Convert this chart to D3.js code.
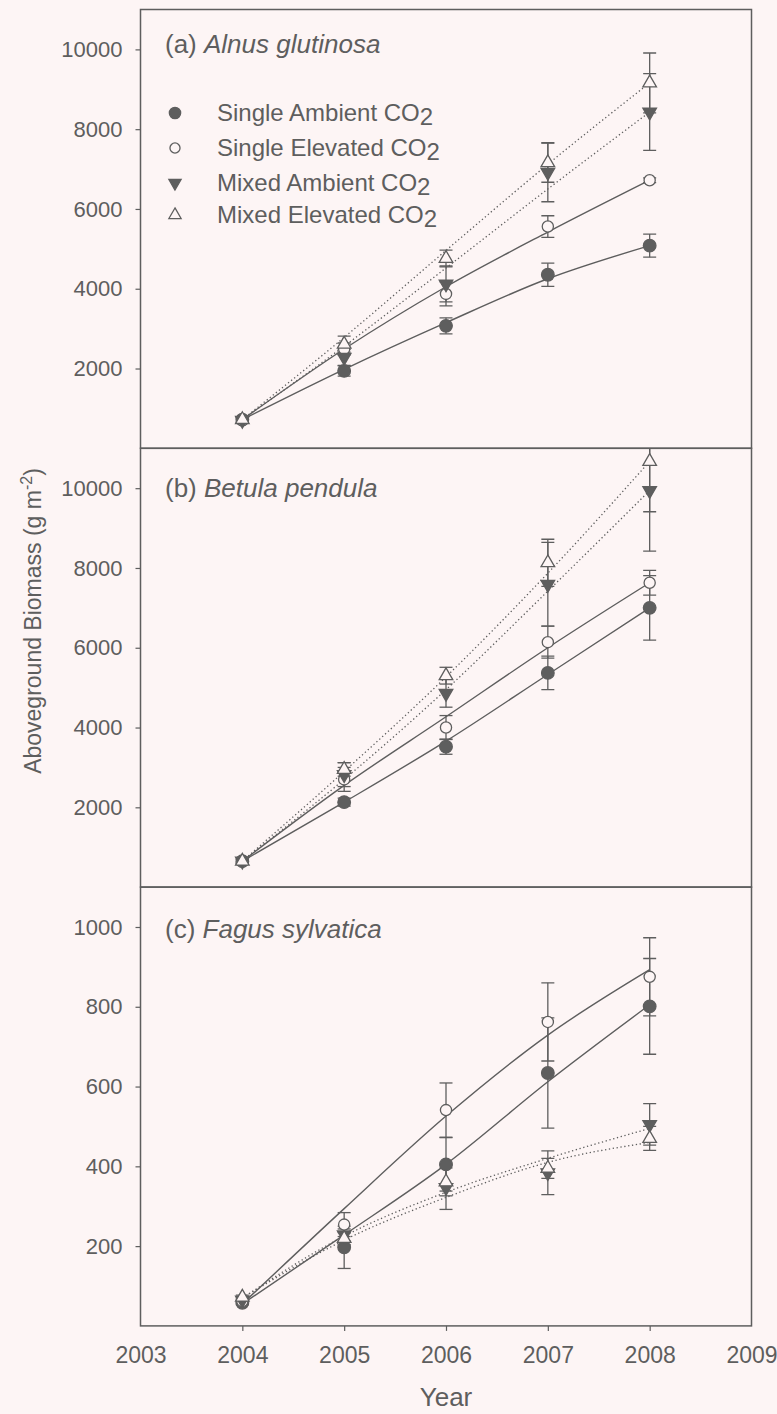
<!DOCTYPE html>
<html>
<head>
<meta charset="utf-8">
<script src="https://cdn.jsdelivr.net/npm/d3@7"></script>
<style>
  body { margin: 0; background: #fdf5f5; }
  svg { display: block; font-family: 'Liberation Sans', Arial, sans-serif; }
</style>
</head>
<body>
<div id="chart"></div>
<script>
const years = [2004, 2005, 2006, 2007, 2008];
const xTicks = [2003, 2004, 2005, 2006, 2007, 2008, 2009];
const seriesNames = ['Single Ambient CO', 'Single Elevated CO', 'Mixed Ambient CO', 'Mixed Elevated CO'];
const titleLetters = ['(a) ', '(b) ', '(c) '];
const species = ['Alnus glutinosa', 'Betula pendula', 'Fagus sylvatica'];
const bigTicks = [2000, 4000, 6000, 8000, 10000];
const smallTicks = [200, 400, 600, 800, 1000];

// row order: single ambient, single elevated, mixed ambient, mixed elevated
const alnusMean = [
    [720, 1940, 3070, 4350, 5080],
    [700, 2490, 3870, 5560, 6720],
    [700, 2280, 4120, 6920, 8430],
    [720, 2610, 4760, 7160, 9160]
];
const alnusErr = [
    [60, 130, 200, 290, 290],
    [60, 150, 300, 270, 60],
    [60, 200, 450, 740, 960],
    [60, 200, 210, 490, 750]
];
const alnusFit = [
    [720, 1980, 3150, 4250, 5080],
    [720, 2490, 4050, 5420, 6720],
    [720, 2560, 4520, 6500, 8430],
    [720, 2780, 4960, 7120, 9160]
];

const betulaMean = [
    [650, 2130, 3520, 5370, 7000],
    [650, 2700, 4000, 6140, 7630],
    [650, 2820, 4860, 7590, 9940],
    [650, 2950, 5300, 8130, 10670]
];
const betulaErr = [
    [50, 100, 190, 420, 810],
    [50, 300, 300, 400, 310],
    [50, 300, 350, 1050, 1520],
    [50, 170, 210, 590, 1260]
];
const betulaFit = [
    [650, 2130, 3660, 5330, 7000],
    [650, 2550, 4270, 6000, 7630],
    [650, 2700, 4950, 7420, 9940],
    [650, 2900, 5270, 7870, 10670]
];

const fagusMean = [
    [58, 197, 405, 634, 801],
    [62, 254, 541, 762, 875],
    [65, 228, 347, 384, 505],
    [72, 219, 361, 395, 470]
];
const fagusErr = [
    [5, 53, 67, 138, 120],
    [5, 30, 68, 98, 98],
    [5, 15, 55, 55, 52],
    [5, 15, 35, 25, 30]
];
const fagusFit = [
    [55, 228, 405, 612, 805],
    [55, 294, 526, 729, 893],
    [70, 225, 335, 420, 495],
    [70, 215, 322, 410, 460]
];

const W = 777, H = 1414;
const plotLeft = 140.5, plotRight = 751.5, plotTop = 9.5, panelH = 438.8;
const ink = '#5e5e5e';
const bg = '#fdf5f5';

const panels = [
    {mean: alnusMean, err: alnusErr, fit: alnusFit, max: 11000, ticks: bigTicks, titleY: 53},
    {mean: betulaMean, err: betulaErr, fit: betulaFit, max: 11000, ticks: bigTicks, titleY: 497},
    {mean: fagusMean, err: fagusErr, fit: fagusFit, max: 1100, ticks: smallTicks, titleY: 938}
];
const markerTypes = ['dot', 'ring', 'down', 'up'];

const svg = d3.select('#chart').append('svg')
    .attr('width', W)
    .attr('height', H);
svg.append('rect').attr('width', W).attr('height', H).attr('fill', bg);

const x = d3.scaleLinear()
    .domain([2003, 2009])
    .range([plotLeft, plotRight]);

function marker(g, type, cx, cy, small) {
    let s = small ? 0.9 : 1;
    if (type === 'dot' || type === 'ring') {
        g.append('circle')
            .attr('cx', cx).attr('cy', cy)
            .attr('r', (type === 'dot' ? 6.3 : 5.6) * s)
            .attr('fill', type === 'dot' ? ink : bg)
            .attr('stroke', ink)
            .attr('stroke-width', 1.3);
    } else {
        g.append('path')
            .attr('d', d3.symbol(d3.symbolTriangle, 80 * s * s)())
            .attr('transform', `translate(${cx},${cy})` + (type === 'down' ? ' rotate(180)' : ''))
            .attr('fill', type === 'down' ? ink : bg)
            .attr('stroke', ink)
            .attr('stroke-width', 1.3);
    }
}

panels.forEach((p, pi) => {
    let y0 = plotTop + pi * panelH;
    let y = d3.scaleLinear()
        .domain([0, p.max])
        .range([y0 + panelH, y0]);

    let clipId = 'clip' + pi;
    svg.append('clipPath').attr('id', clipId)
        .append('rect')
        .attr('x', plotLeft).attr('y', y0)
        .attr('width', plotRight - plotLeft).attr('height', panelH);

    let g = svg.append('g').attr('clip-path', `url(#${clipId})`);

    // fitted lines
    let line = d3.line()
        .x((d, i) => x(years[i]))
        .y(d => y(d))
        .curve(d3.curveMonotoneX);
    p.fit.forEach((f, si) => {
        g.append('path')
            .attr('d', line(f))
            .attr('fill', 'none')
            .attr('stroke', ink)
            .attr('stroke-width', si < 2 ? 1.4 : 1.3)
            .attr('stroke-dasharray', si < 2 ? null : '1.3,2.6');
    });

    // error bars
    p.mean.forEach((m, si) => {
        m.forEach((v, i) => {
            let e = p.err[si][i];
            let cx = x(years[i]);
            let eb = g.append('g')
                .attr('stroke', ink)
                .attr('stroke-width', 1.3);
            eb.append('line')
                .attr('x1', cx).attr('x2', cx)
                .attr('y1', y(v - e)).attr('y2', y(v + e));
            [v - e, v + e].forEach(c => eb.append('line')
                .attr('x1', cx - 6.5).attr('x2', cx + 6.5)
                .attr('y1', y(c)).attr('y2', y(c)));
        });
    });

    // markers
    p.mean.forEach((m, si) => {
        m.forEach((v, i) => marker(g, markerTypes[si], x(years[i]), y(v)));
    });

    // frame
    svg.append('rect')
        .attr('x', plotLeft).attr('y', y0)
        .attr('width', plotRight - plotLeft).attr('height', panelH)
        .attr('fill', 'none')
        .attr('stroke', ink)
        .attr('stroke-width', 1.5);

    // y axis
    let yAxis = svg.append('g')
        .attr('transform', `translate(${plotLeft},0)`)
        .call(d3.axisLeft(y)
            .tickValues(p.ticks)
            .tickFormat(d3.format('d'))
            .tickSize(5)
            .tickPadding(13));
    yAxis.select('.domain').remove();
    yAxis.selectAll('line').attr('stroke', ink).attr('stroke-width', 1.2);
    yAxis.selectAll('text')
        .attr('fill', ink)
        .style('font-size', '22px');

    // panel title
    let t = svg.append('text')
        .attr('x', 165)
        .attr('y', p.titleY)
        .attr('fill', ink)
        .style('font-size', '26px');
    t.append('tspan').text(titleLetters[pi]);
    t.append('tspan').style('font-style', 'italic').text(species[pi]);
});

// x axis on bottom panel
const xAxis = svg.append('g')
    .attr('transform', `translate(0,${plotTop + 3 * panelH})`)
    .call(d3.axisBottom(x)
        .tickValues(xTicks)
        .tickFormat(d3.format('d'))
        .tickSize(5)
        .tickPadding(16));
xAxis.select('.domain').remove();
xAxis.selectAll('line').attr('stroke', ink).attr('stroke-width', 1.2);
xAxis.selectAll('.tick').filter(d => d === 2003 || d === 2009).select('line').remove();
xAxis.selectAll('text')
    .attr('fill', ink)
    .style('font-size', '23px');

// legend
const legend = svg.append('g').attr('id', 'legend');
const legendRows = [113, 148, 183, 215];
seriesNames.forEach((name, i) => {
    marker(legend, markerTypes[i], 175, legendRows[i], true);
    let lt = legend.append('text')
        .attr('x', 217)
        .attr('y', legendRows[i] + 7.5)
        .attr('fill', ink)
        .style('font-size', '24px');
    lt.append('tspan').text(name);
    lt.append('tspan').attr('dy', 4).text('2');
});

// axis titles
svg.append('text')
    .attr('x', (plotLeft + plotRight) / 2)
    .attr('y', 1406)
    .attr('text-anchor', 'middle')
    .attr('fill', ink)
    .style('font-size', '26px')
    .text('Year');

const yTitle = svg.append('text')
    .attr('transform', 'translate(41,621) rotate(-90)')
    .attr('text-anchor', 'middle')
    .attr('fill', ink)
    .style('font-size', '23px');
yTitle.append('tspan').text('Aboveground Biomass (g m');
yTitle.append('tspan').attr('dy', -9).style('font-size', '16px').text('-2');
yTitle.append('tspan').attr('dy', 9).text(')');
</script>
</body>
</html>
